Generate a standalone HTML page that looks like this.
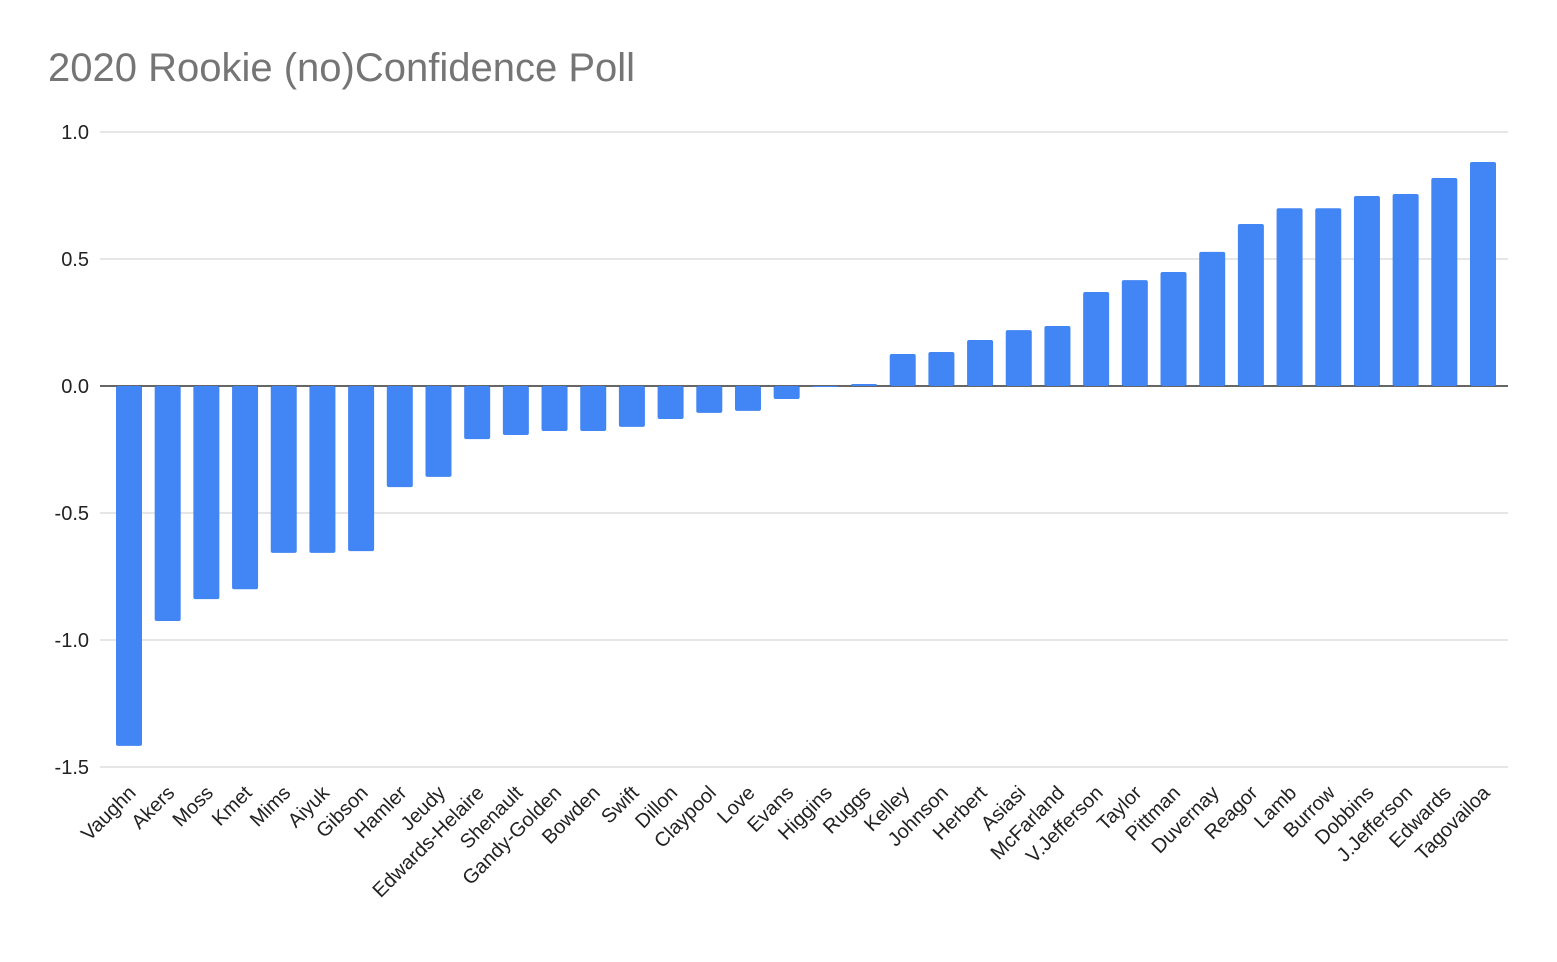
<!DOCTYPE html>
<html><head><meta charset="utf-8"><style>
html,body{margin:0;padding:0;background:#fff;}
svg{display:block;font-family:"Liberation Sans",Arial,sans-serif;}
</style></head><body>
<svg id="chart" width="1557" height="962">
<rect width="1557" height="962" fill="#fff"/>
<text x="48" y="81" font-size="40" fill="#757575">2020 Rookie (no)Confidence Poll</text>
<g id="grid"></g><g id="bars"></g><g id="labels"></g>
</svg>
<script>
const categories=["Vaughn","Akers","Moss","Kmet","Mims","Aiyuk","Gibson","Hamler","Jeudy","Edwards-Helaire","Shenault","Gandy-Golden","Bowden","Swift","Dillon","Claypool","Love","Evans","Higgins","Ruggs","Kelley","Johnson","Herbert","Asiasi","McFarland","V.Jefferson","Taylor","Pittman","Duvernay","Reagor","Lamb","Burrow","Dobbins","J.Jefferson","Edwards","Tagovailoa"];
const values=[-1.417,-0.925,-0.839,-0.80,-0.657,-0.657,-0.65,-0.398,-0.358,-0.209,-0.193,-0.177,-0.177,-0.161,-0.13,-0.106,-0.098,-0.051,-0.004,0.008,0.126,0.134,0.181,0.22,0.236,0.37,0.417,0.449,0.528,0.638,0.70,0.70,0.748,0.756,0.819,0.882];
const ticks=[1.0,0.5,0.0,-0.5,-1.0,-1.5];
const tickLabels=["1.0","0.5","0.0","-0.5","-1.0","-1.5"];
(function(){
const NS="http://www.w3.org/2000/svg";
const yMin=-1.5,yMax=1.0,plotTop=132,plotBot=767,plotLeft=100,plotRight=1508;
const yS=v=>plotBot-(v-yMin)/(yMax-yMin)*(plotBot-plotTop);
const first=129,last=1483;
const step=(last-first)/(categories.length-1);
const xS=i=>first+step*i;
const bw=26;
function mk(t,a,p){const e=document.createElementNS(NS,t);for(const k in a)e.setAttribute(k,a[k]);p.appendChild(e);return e;}
const grid=document.getElementById('grid'),bars=document.getElementById('bars'),labels=document.getElementById('labels');
ticks.forEach((t,i)=>{
  const l=mk('line',{x1:plotLeft,x2:plotRight,y1:yS(t),y2:yS(t),stroke:t===0?'#333':'#cccccc','stroke-width':t===0?1.5:1},grid);
  
  
  const tx=mk('text',{x:89,y:yS(t)+7,'text-anchor':'end','font-size':20,fill:'#222'},grid);
  tx.textContent=tickLabels[i];
  
  
});
values.forEach((v,i)=>{
  const y0=yS(0),y1=yS(v);
  const r=mk('rect',{x:xS(i)-bw/2,y:Math.min(y0,y1),width:bw,height:Math.max(Math.abs(y1-y0),0.8),fill:'#4285f4',rx:2},bars);
  
  
  const cx=xS(i)+8,cy=794;
  const t=mk('text',{x:cx,y:cy,'text-anchor':'end','font-size':20,fill:'#222',transform:`rotate(-45 ${cx} ${cy})`},labels);
  t.textContent=categories[i];
  
  
});
})();
</script>
</body></html>
